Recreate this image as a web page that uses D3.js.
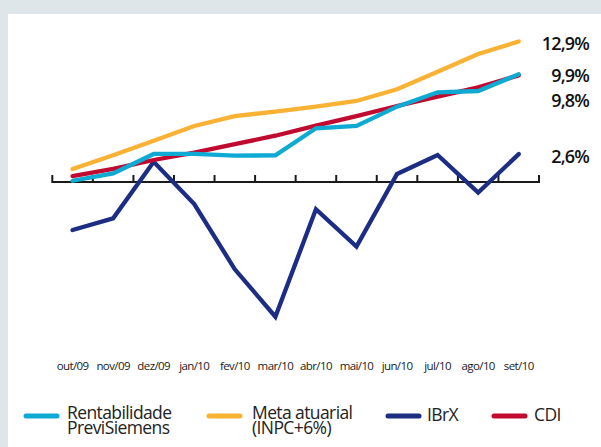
<!DOCTYPE html>
<html>
<head>
<meta charset="utf-8">
<script src="https://cdn.jsdelivr.net/npm/d3@7"></script>
<style>
html,body{margin:0;padding:0;background:#dfe6e9;}
svg{display:block;}
</style>
</head>
<body>
<svg id="chart" width="601" height="447"></svg>
<script>
const months = ["out/09","nov/09","dez/09","jan/10","fev/10","mar/10","abr/10","mai/10","jun/10","jul/10","ago/10","set/10"];
const rentabilidade = [0.16,0.84,2.61,2.61,2.45,2.49,4.96,5.17,6.94,8.25,8.37,9.9];
const meta = [1.24,2.49,3.82,5.17,6.08,6.48,6.94,7.46,8.53,10.14,11.76,12.9];
const ibrx = [-4.35,-3.28,1.90,-1.97,-7.94,-12.28,-2.45,-5.87,0.78,2.52,-0.93,2.6];
const cdi = [0.59,1.24,2.06,2.73,3.52,4.28,5.20,6.08,7.00,7.85,8.71,9.8];
const endLabels = ["12,9%","9,9%","9,8%","2,6%"];
const legendNames = [["Rentabilidade","PreviSiemens"],["Meta atuarial","(INPC+6%)"],["IBrX"],["CDI"]];

const colors = {rent:"#0eaad3", meta:"#f9b233", ibrx:"#1d2d84", cdi:"#c10a2f"};

const svg = d3.select("#chart");
svg.append("rect").attr("x",8).attr("y",14).attr("width",601-8).attr("height",447-14).attr("fill","#ffffff");

const x = d3.scaleBand().domain(months).range([52.3,539]).padding(0);
const xc = d => x(d) + x.bandwidth()/2;
const y = d3.scaleLinear().domain([0,10]).range([182.5,73.2]);

// axis baseline with upward ticks at band edges
const gAxis = svg.append("g").attr("transform","translate(0,182)");
gAxis.append("line").attr("x1",52.3).attr("x2",539).attr("stroke","#1a1a1a").attr("stroke-width",2);
const tickPos = months.map(m => x(m)).concat([x(months[months.length-1]) + x.bandwidth()]);
gAxis.selectAll("line.tick").data(tickPos).enter().append("line")
  .attr("class","tick").attr("x1",d=>d).attr("x2",d=>d).attr("y1",1).attr("y2",-7)
  .attr("stroke","#1a1a1a").attr("stroke-width",2);

// month labels via axis
const gLab = svg.append("g").attr("transform","translate(0,362)")
  .call(d3.axisBottom(x).tickSize(0).tickPadding(0));
gLab.select(".domain").remove();
gLab.selectAll("text").attr("font-family","Open Sans, sans-serif").attr("font-size","11.5px")
  .attr("letter-spacing","-0.6px").attr("fill","#1a1a1a").attr("dy","0.71em");

const line = d3.line().x((d,i)=>xc(months[i])).y(d=>y(d));
const series = [
  {v:ibrx, c:colors.ibrx},
  {v:cdi, c:colors.cdi},
  {v:meta, c:colors.meta},
  {v:rentabilidade, c:colors.rent}
];
svg.selectAll("path.series").data(series).enter().append("path")
  .attr("class","series").attr("d",d=>line(d.v)).attr("fill","none")
  .attr("stroke",d=>d.c).attr("stroke-width",4.3)
  .attr("stroke-linejoin","miter").attr("stroke-linecap","round");

// end labels
const labelY = [49.5, 82, 107, 162.5];
svg.selectAll("text.end").data(endLabels).enter().append("text")
  .attr("class","end").attr("x",589).attr("y",(d,i)=>labelY[i])
  .attr("text-anchor","end").attr("font-family","Open Sans, sans-serif")
  .attr("font-weight","600").attr("font-size","18px").attr("letter-spacing","-0.8px")
  .attr("fill","#111").text(d=>d);

// legend
const legColors = [colors.rent, colors.meta, colors.ibrx, colors.cdi];
const legX = [26, 209, 388, 494];
const legTextX = [67, 252, 427, 534];
const lg = svg.append("g");
legendNames.forEach((names,i)=>{
  lg.append("line").attr("x1",legX[i]).attr("x2",legX[i]+31).attr("y1",416).attr("y2",416)
    .attr("stroke",legColors[i]).attr("stroke-width",5).attr("stroke-linecap","round");
  names.forEach((n,j)=>{
    lg.append("text").attr("x",legTextX[i])
      .attr("y",(names.length>1?418.5:421) + j*15)
      .attr("font-family","Open Sans, sans-serif").attr("font-size","17.5px")
      .attr("letter-spacing","-0.6px").attr("fill","#222").text(n);
  });
});
</script>
</body>
</html>
